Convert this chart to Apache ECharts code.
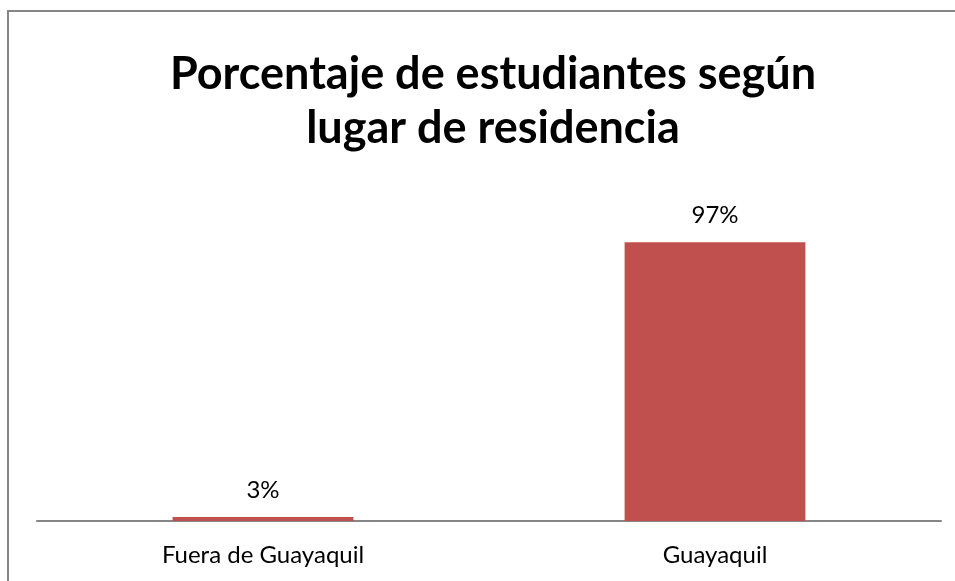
<!DOCTYPE html>
<html>
<head>
<meta charset="utf-8">
<script src="https://cdn.jsdelivr.net/npm/echarts@6/dist/echarts.min.js"></script>
<style>
  html, body { margin: 0; padding: 0; background: #fff; }
  #chart { width: 955px; height: 581px; }
</style>
</head>
<body>
<div id="chart"></div>
<script>
// datos del gráfico
var categorias = ['Fuera de Guayaquil', 'Guayaquil'];
var porcentajes = [3, 97];
var titulo = 'Porcentaje de estudiantes según\nlugar de residencia';

var myChart = echarts.init(document.getElementById('chart'));

var option = {
    animation: false,
    title: {
        text: titulo,
        left: 488,
        top: 42,
        textAlign: 'center',
        textStyle: {
            fontFamily: 'Lato',
            fontWeight: 'bold',
            fontSize: 45,
            lineHeight: 54,
            color: '#000'
        }
    },
    // borde del área del gráfico (solo arriba e izquierda, el resto queda fuera)
    graphic: [{
        type: 'polyline',
        shape: { points: [[8, 581], [8, 11], [955, 11]] },
        style: { fill: null, stroke: '#868686', lineWidth: 2 },
        silent: true
    }],
    grid: {
        left: 37,
        right: 14,
        top: 175,
        bottom: 60
    },
    xAxis: {
        type: 'category',
        data: categorias,
        axisTick: { show: false },
        axisLine: { lineStyle: { color: '#868686', width: 2 } },
        axisLabel: {
            margin: 22,
            fontFamily: 'Lato',
            fontSize: 24,
            color: '#000'
        }
    },
    yAxis: {
        type: 'value',
        min: 1.6,
        max: 120,
        show: false,
        splitLine: { show: false }
    },
    series: [{
        type: 'bar',
        data: porcentajes,
        barWidth: '40%',
        itemStyle: { color: '#c0504d' },
        label: {
            show: true,
            position: 'top',
            distance: 15,
            formatter: '{c}%',
            fontFamily: 'Lato',
            fontSize: 24,
            color: '#000'
        }
    }]
};

myChart.setOption(option);
</script>
</body>
</html>
